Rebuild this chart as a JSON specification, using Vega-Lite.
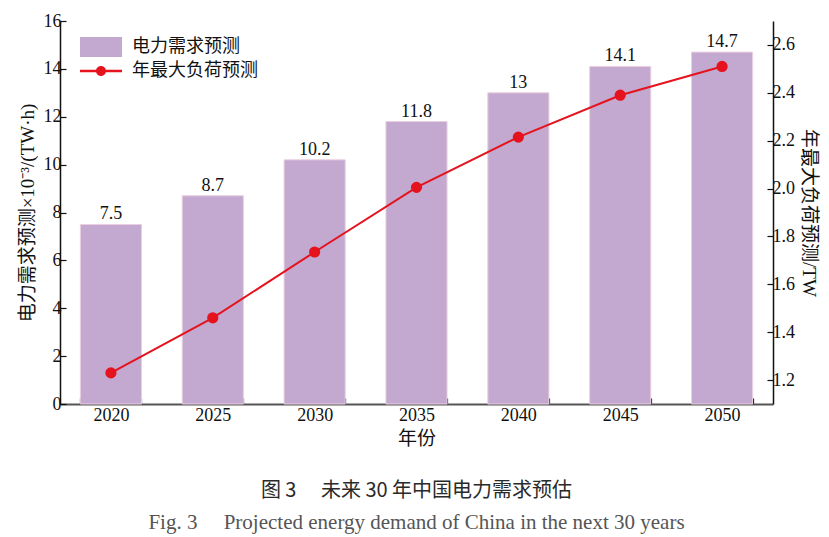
{
  "$schema": "https://vega.github.io/schema/vega-lite/v6.json",
  "autosize": {"type": "none"},
  "padding": {"left": 60, "top": 21, "right": 56, "bottom": 133},
  "width": 713,
  "height": 383,
  "background": "white",
  "data": {"values": [
    {"year": "2020", "demand": 7.5, "peak": 1.23},
    {"year": "2025", "demand": 8.7, "peak": 1.46},
    {"year": "2030", "demand": 10.2, "peak": 1.735},
    {"year": "2035", "demand": 11.8, "peak": 2.005},
    {"year": "2040", "demand": 13, "peak": 2.215},
    {"year": "2045", "demand": 14.1, "peak": 2.39},
    {"year": "2050", "demand": 14.7, "peak": 2.51}
  ]},
  "title": {
    "text": "图 3　 未来 30 年中国电力需求预估",
    "subtitle": "Fig. 3　 Projected energy demand of China in the next 30 years",
    "orient": "bottom",
    "anchor": "middle",
    "frame": "group",
    "offset": 33,
    "font": "Noto Sans CJK SC",
    "fontSize": 20,
    "fontWeight": "normal",
    "color": "#2a2a2a",
    "subtitleFont": "Liberation Serif",
    "subtitleFontSize": 21,
    "subtitleColor": "#555555",
    "subtitlePadding": 11
  },
  "config": {
    "view": {"stroke": null},
    "axis": {
      "labelFont": "Liberation Serif",
      "labelFontSize": 18,
      "labelColor": "#111111",
      "titleFont": "'Liberation Serif', 'Noto Sans CJK SC'",
      "titleFontSize": 19,
      "titleFontWeight": "normal",
      "titleColor": "#111111",
      "grid": false,
      "domainColor": "#111111",
      "domainWidth": 1.5,
      "tickColor": "#111111",
      "tickWidth": 1.2
    },
    "legend": {
      "labelFont": "Noto Sans CJK SC",
      "labelFontSize": 18,
      "labelColor": "#111111",
      "padding": 0
    }
  },
  "resolve": {"scale": {"y": "independent"}},
  "layer": [
    {
      "layer": [
        {
          "mark": {"type": "bar", "stroke": "#EBCFE0", "strokeWidth": 1},
          "encoding": {
            "x": {
              "field": "year", "type": "ordinal",
              "scale": {"paddingInner": 0.4, "paddingOuter": 0.2},
              "axis": {
                "title": "年份", "labelAngle": 0, "tickBand": "extent",
                "tickSize": -6, "labelPadding": 8, "titlePadding": 5,
                "domainColor": "#555555", "domainWidth": 2
              }
            },
            "y": {
              "field": "demand", "type": "quantitative",
              "scale": {"domain": [0, 16], "nice": false},
              "axis": {
                "title": "电力需求预测×10⁻³/(TW·h)",
                "values": [0, 2, 4, 6, 8, 10, 12, 14, 16],
                "tickSize": -6, "labelPadding": 5, "titlePadding": 6
              }
            },
            "fill": {
              "datum": "电力需求预测",
              "scale": {"range": ["#C3A8CF"]},
              "legend": {
                "title": null, "orient": "none", "legendX": 20, "legendY": 5,
                "symbolType": "M-1,-0.476H1V0.476H-1Z",
                "symbolSize": 1764, "symbolStrokeWidth": 0, "labelOffset": 10
              }
            }
          }
        },
        {
          "mark": {"type": "text", "baseline": "alphabetic", "dy": -5, "font": "Liberation Serif", "fontSize": 18, "color": "#111111"},
          "encoding": {
            "x": {"field": "year", "type": "ordinal"},
            "y": {"field": "demand", "type": "quantitative"},
            "text": {"field": "demand", "type": "quantitative"}
          }
        }
      ]
    },
    {
      "mark": {"type": "line", "strokeWidth": 2, "point": {"filled": true, "fill": "#E5131D", "size": 85}},
      "encoding": {
        "x": {"field": "year", "type": "ordinal"},
        "y": {
          "field": "peak", "type": "quantitative",
          "scale": {"domain": [1.1, 2.7], "nice": false, "zero": false},
          "axis": {
            "orient": "right",
            "title": "年最大负荷预测/TW",
            "values": [1.2, 1.4, 1.6, 1.8, 2.0, 2.2, 2.4, 2.6],
            "format": ".1f",
            "tickSize": -6, "labelPadding": 5, "titlePadding": 4
          }
        },
        "stroke": {
          "datum": "年最大负荷预测",
          "scale": {"range": ["#E5131D"]},
          "legend": {
            "title": null, "orient": "none", "legendX": 20, "legendY": 29,
            "symbolType": "M-1,-0.06H-0.2V0.06H-1Z M0.2,-0.06H1V0.06H0.2Z M-0.238,0A0.238,0.238 0 1,1 0.238,0A0.238,0.238 0 1,1 -0.238,0Z",
            "symbolSize": 1764, "labelOffset": 10,
            "encode": {"symbols": {"update": {"fill": {"value": "#E5131D"}, "strokeWidth": {"value": 0}}}}
          }
        }
      }
    }
  ]
}
